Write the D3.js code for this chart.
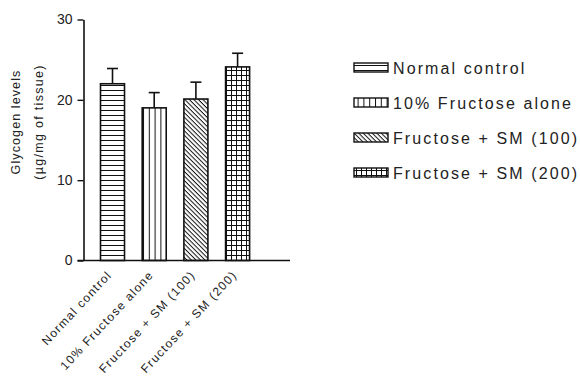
<!DOCTYPE html>
<html>
<head>
  <script src="https://d3js.org/d3.v7.min.js"></script>
  <style>
    body { margin: 0; background: #fff; }
    text { font-family: "Liberation Sans", Arial, sans-serif; }
  </style>
</head>
<body>
  <svg width="580" height="390" id="mainsvg"></svg>
  <script>
    const groups = ['Normal control', '10% Fructose alone', 'Fructose + SM (100)', 'Fructose + SM (200)'];
    const tickLabels = ['Normal control', '10% Fructose alone', 'Fructose + SM (100)', 'Fructose + SM (200)'];
    const means = [22.0, 19.0, 20.1, 24.1];
    const errors = [1.9, 1.9, 2.1, 1.7];
    const patterns = ['hlines', 'vlines', 'diag', 'grid'];
    const yTicks = [0, 10, 20, 30];

    const svg = d3.select('#mainsvg');
    const defs = svg.append('defs');

    // fill patterns
    const ph = defs.append('pattern').attr('id', 'hlines').attr('patternUnits', 'userSpaceOnUse')
      .attr('width', 6).attr('height', 5);
    ph.append('rect').attr('width', 6).attr('height', 5).attr('fill', '#fff');
    ph.append('line').attr('x1', 0).attr('x2', 6).attr('y1', 0.5).attr('y2', 0.5).attr('stroke', '#111').attr('stroke-width', 1);

    const pv = defs.append('pattern').attr('id', 'vlines').attr('patternUnits', 'userSpaceOnUse')
      .attr('width', 5.8).attr('height', 6).attr('x', 143);
    pv.append('rect').attr('width', 5.8).attr('height', 6).attr('fill', '#fff');
    pv.append('line').attr('x1', 0.5).attr('x2', 0.5).attr('y1', 0).attr('y2', 6).attr('stroke', '#111').attr('stroke-width', 1);

    const pd = defs.append('pattern').attr('id', 'diag').attr('patternUnits', 'userSpaceOnUse')
      .attr('width', 3.2).attr('height', 3.2).attr('patternTransform', 'rotate(45)');
    pd.append('rect').attr('width', 3.2).attr('height', 3.2).attr('fill', '#fff');
    pd.append('line').attr('x1', 0).attr('x2', 3.2).attr('y1', 0.5).attr('y2', 0.5).attr('stroke', '#111').attr('stroke-width', 1);

    const pg = defs.append('pattern').attr('id', 'grid').attr('patternUnits', 'userSpaceOnUse')
      .attr('width', 5).attr('height', 5).attr('x', 226);
    pg.append('rect').attr('width', 5).attr('height', 5).attr('fill', '#fff');
    pg.append('line').attr('x1', 0).attr('x2', 5).attr('y1', 0.5).attr('y2', 0.5).attr('stroke', '#111');
    pg.append('line').attr('x1', 0.5).attr('x2', 0.5).attr('y1', 0).attr('y2', 5).attr('stroke', '#111');

    const axisLeftX = 83.5;
    const axisRightX = 290;

    const y = d3.scaleLinear().domain([0, 30]).range([260.5, 19.5]);
    const x = d3.scaleBand().domain(groups).range([100.5, 249.6]).paddingInner(0.424).paddingOuter(0);

    // y axis
    const yAxis = d3.axisLeft(y).tickValues(yTicks).tickSize(6).tickSizeOuter(0);
    const yg = svg.append('g').attr('transform', `translate(${axisLeftX},0)`).call(yAxis);
    yg.select('.domain').attr('stroke', '#111').attr('stroke-width', 1.6);
    yg.selectAll('.tick line').attr('stroke', '#111').attr('stroke-width', 1.4);
    yg.selectAll('.tick text').attr('font-size', 14).attr('fill', '#222').attr('x', -11).attr('font-family', '"Liberation Sans", Arial, sans-serif');

    // bars
    groups.forEach((g, i) => {
      svg.append('rect')
        .attr('x', x(g))
        .attr('y', y(means[i]))
        .attr('width', x.bandwidth())
        .attr('height', y(0) - y(means[i]))
        .attr('fill', `url(#${patterns[i]})`)
        .attr('stroke', '#111')
        .attr('stroke-width', 1.6);
      const cx = x(g) + x.bandwidth() / 2;
      svg.append('line').attr('x1', cx).attr('x2', cx)
        .attr('y1', y(means[i])).attr('y2', y(means[i] + errors[i]))
        .attr('stroke', '#111').attr('stroke-width', 1.6);
      svg.append('line').attr('x1', cx - 5.5).attr('x2', cx + 5.5)
        .attr('y1', y(means[i] + errors[i])).attr('y2', y(means[i] + errors[i]))
        .attr('stroke', '#111').attr('stroke-width', 1.6);
    });

    // x axis line
    svg.append('line').attr('x1', axisLeftX - 6).attr('x2', axisRightX)
      .attr('y1', y(0)).attr('y2', y(0)).attr('stroke', '#111').attr('stroke-width', 1.6);

    // x tick labels, rotated
    groups.forEach((g, i) => {
      const cx = x(g) + x.bandwidth() / 2;
      svg.append('text')
        .attr('transform', `translate(${cx},${y(0) + 15}) rotate(-47)`)
        .attr('text-anchor', 'end')
        .attr('font-size', 12)
        .attr('letter-spacing', 1.3)
        .attr('fill', '#222')
        .text(tickLabels[i]);
    });

    // y axis title
    const yt = svg.append('text')
      .attr('transform', 'translate(0,122) rotate(-90)')
      .attr('text-anchor', 'middle')
      .attr('font-size', 12.5)
      .attr('fill', '#222');
    yt.append('tspan').attr('x', 0).attr('y', 20).attr('letter-spacing', 1.1).text('Glycogen levels');
    yt.append('tspan').attr('x', 0).attr('y', 43).attr('letter-spacing', 1.3).text('(µg/mg of tissue)');

    // legend
    const legendY = [68, 103, 138, 173];
    groups.forEach((g, i) => {
      svg.append('rect')
        .attr('x', 354).attr('y', legendY[i] - 5)
        .attr('width', 34).attr('height', 9)
        .attr('fill', `url(#${patterns[i]})`)
        .attr('stroke', '#111').attr('stroke-width', 1.4);
      svg.append('text')
        .attr('x', 393).attr('y', legendY[i] + 6)
        .attr('font-size', 16)
        .attr('letter-spacing', 2.1)
        .attr('fill', '#222')
        .text(g);
    });
  </script>
</body>
</html>
